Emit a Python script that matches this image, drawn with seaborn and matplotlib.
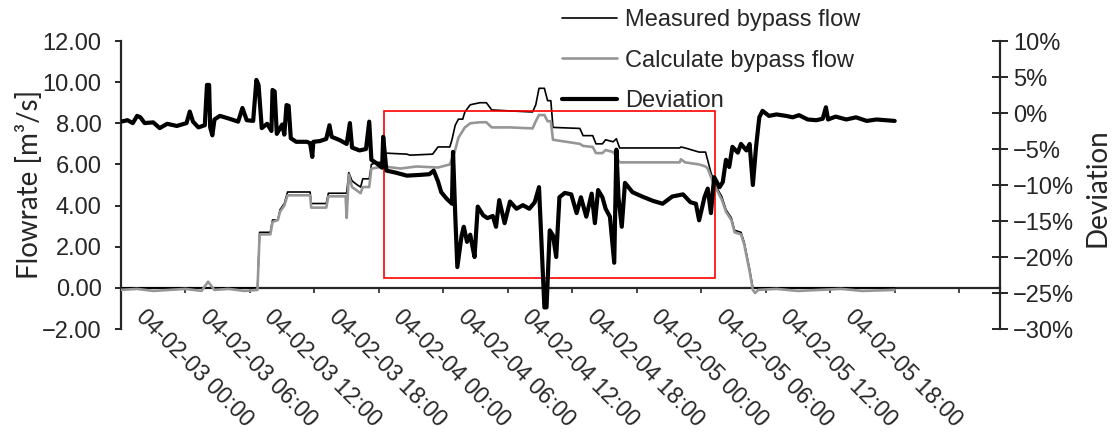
import matplotlib
matplotlib.use('Agg')
import numpy as np
import seaborn as sns
from matplotlib import pyplot as plt
from matplotlib import transforms
from matplotlib.patches import Rectangle
from matplotlib.ticker import FuncFormatter

# hours since 04-02-03 00:00
dev_hours = [0.0, 0.6, 1.1, 1.5, 1.8, 2.2, 3.0, 3.6, 4.3, 5.2, 6.1, 6.4, 6.7, 7.2, 7.8, 8.0, 8.2, 8.3, 8.5, 8.7,
             9.2, 10.1, 10.9, 11.3, 11.7, 12.3, 12.6, 12.8, 13.1, 13.6, 14.0, 14.1, 14.3, 14.5, 15.0, 15.2, 15.4,
             15.6, 15.8, 16.3, 17.3, 17.6, 17.8, 17.9, 18.5, 19.1, 19.4, 19.6, 20.4, 21.0, 21.3, 21.5, 22.2, 22.8,
             23.1, 23.3, 23.8, 24.3, 24.4, 24.7, 25.6, 26.6, 27.8, 28.7, 29.1, 29.5, 29.8, 30.3, 30.8, 30.9, 31.1,
             31.3, 31.7, 31.9, 32.2, 32.5, 32.7, 32.9, 33.2, 33.7, 34.1, 34.6, 34.9, 35.2, 35.7, 36.2, 36.8, 37.4,
             38.0, 38.5, 38.9, 39.1, 39.4, 39.6, 39.9, 40.2, 40.5, 40.8, 41.3, 41.9, 42.4, 42.8, 43.3, 43.8, 44.1,
             44.4, 44.8, 45.1, 45.5, 45.9, 46.1, 46.3, 46.6, 46.9, 47.6, 48.5, 49.5, 50.4, 51.3, 52.3, 53.0, 53.5,
             53.8, 54.3, 54.6, 54.9, 55.2, 55.7, 56.0, 56.3, 56.6, 56.9, 57.4, 57.7, 58.2, 58.5, 58.8, 59.1, 59.4,
             59.7, 60.3, 61.0, 61.9, 62.5, 63.1, 63.9, 64.7, 65.3, 65.6, 65.8, 66.5, 67.5, 68.4, 69.4, 70.3, 71.2,
             72.0]
deviation = [-1.2, -1.0, -1.4, -0.4, -0.6, -1.4, -1.3, -2.1, -1.5, -1.8, -1.4, 0.2, -1.2, -2.0, -1.7, 3.9, 3.9,
             -2.0, -3.1, -0.9, -0.4, -0.8, -1.2, 0.7, -1.0, -1.1, 4.6, 3.9, -2.1, -1.5, -2.5, 3.2, 3.0, -2.9, -1.6,
             -3.0, 1.1, 1.0, -3.5, -4.0, -4.0, -4.2, -6.1, -4.0, -3.9, -3.6, -1.7, -3.3, -3.8, -4.3, -1.4, -4.8,
             -5.2, -5.0, -1.2, -6.5, -7.0, -7.6, -3.3, -8.0, -8.3, -8.7, -8.6, -8.5, -8.0, -9.5, -11.0, -11.9,
             -12.6, -5.4, -14.0, -21.4, -17.0, -15.8, -17.9, -16.9, -18.5, -20.0, -13.0, -14.2, -14.6, -14.3,
             -15.8, -12.1, -15.3, -12.3, -13.3, -12.8, -13.3, -12.4, -10.3, -17.0, -27.0, -27.0, -16.3, -17.0,
             -20.0, -11.7, -11.1, -11.3, -13.9, -11.7, -14.4, -11.2, -15.3, -10.7, -11.7, -13.3, -14.4, -20.8,
             -5.1, -11.8, -15.8, -9.7, -11.0, -11.6, -12.2, -12.6, -11.6, -11.3, -12.4, -12.6, -14.9, -11.7,
             -10.5, -13.9, -8.9, -10.3, -9.6, -6.5, -7.5, -4.7, -5.5, -4.3, -5.2, -4.3, -10.0, -4.7, -0.6, 0.3,
             -0.4, -0.2, -0.4, -0.6, -0.3, -0.9, -1.0, -0.8, 0.8, -0.9, -0.5, -0.9, -0.6, -1.1, -0.9, -1.0, -1.1]

meas_hours = [0.0, 12.7, 12.9, 13.9, 14.1, 14.6, 14.8, 15.2, 15.5, 17.6, 17.7, 19.1, 19.3, 21.0, 21.2, 21.5,
              22.0, 22.3, 22.5, 23.1, 23.3, 23.8, 24.5, 24.6, 26.6, 26.9, 29.0, 29.5, 30.6, 30.8, 31.1, 31.4,
              31.8, 32.0, 32.5, 33.4, 34.0, 34.5, 36.2, 38.3, 38.6, 38.9, 39.4, 39.7, 40.0, 40.2, 42.7, 43.0,
              43.9, 44.2, 44.8, 45.1, 45.8, 46.1, 46.4, 52.0, 52.1, 52.5, 53.8, 54.4, 54.6, 54.9, 55.4, 55.9,
              56.3, 56.8, 57.1, 57.7, 58.0, 58.5, 58.8, 72.0]
measured = [0.0, 0.0, 2.7, 2.7, 3.3, 3.3, 3.8, 4.1, 4.66, 4.66, 4.1, 4.1, 4.6, 4.6, 5.6, 5.2, 5.0, 4.9, 5.3,
            5.3, 6.0, 6.1, 6.1, 6.55, 6.5, 6.45, 6.5, 6.85, 6.85, 7.2, 7.9, 8.2, 8.2, 8.55, 8.9, 9.0, 9.0, 8.65,
            8.6, 8.55, 8.9, 9.7, 9.7, 9.1, 9.1, 7.8, 7.75, 7.4, 7.4, 7.0, 7.0, 7.2, 7.1, 7.25, 6.8, 6.8, 6.85,
            6.8, 6.6, 6.6, 6.2, 5.6, 4.9, 4.45, 3.8, 3.4, 2.8, 2.7, 2.2, 0.9, 0.0, 0.0]

calc_hours = [0.0, 1.5, 3.0, 4.5, 6.0, 7.5, 8.1, 8.7, 10.0, 11.5, 12.7, 12.9, 13.9, 14.1, 14.6, 14.8, 15.2,
              15.5, 17.6, 17.7, 19.1, 19.3, 20.9, 21.0, 21.2, 21.5, 22.3, 22.5, 23.1, 23.3, 24.5, 26.0, 27.5,
              29.5, 30.6, 31.1, 31.4, 32.0, 32.5, 33.4, 34.0, 34.5, 36.2, 38.3, 38.6, 38.9, 39.4, 39.7, 40.0,
              40.2, 42.7, 43.0, 43.9, 44.2, 44.8, 45.1, 45.8, 46.1, 46.4, 52.0, 52.1, 52.5, 53.8, 54.4, 54.6,
              54.9, 55.4, 55.9, 56.3, 56.8, 57.1, 57.7, 58.0, 58.5, 58.8, 59.0, 59.3, 61.0, 63.0, 65.0, 67.0,
              69.0, 72.0]
calculated = [-0.1, -0.05, -0.15, -0.1, -0.05, -0.15, 0.3, -0.1, -0.05, -0.15, -0.1, 2.6, 2.6, 3.2, 3.3,
              3.7, 4.0, 4.5, 4.5, 3.9, 3.9, 4.45, 4.45, 3.4, 5.5, 4.9, 4.6, 4.9, 4.9, 5.8, 5.9, 5.8, 5.9, 5.85,
              6.0, 6.7, 7.3, 7.8, 8.0, 8.05, 8.05, 7.8, 7.8, 7.75, 8.1, 8.4, 8.4, 8.1, 8.1, 7.2, 7.0, 6.9, 6.85,
              6.55, 6.55, 6.7, 6.6, 6.4, 6.1, 6.1, 6.25, 6.1, 6.0, 5.9, 5.8, 5.4, 4.8, 4.3, 3.7, 3.3, 2.7, 2.6,
              2.1, 0.8, -0.1, -0.25, -0.1, -0.05, -0.15, -0.1, -0.05, -0.15, -0.1]

tick_hours = list(range(0, 79, 6))
tick_labels = ['04-02-03 00:00', '04-02-03 06:00', '04-02-03 12:00', '04-02-03 18:00',
               '04-02-04 00:00', '04-02-04 06:00', '04-02-04 12:00', '04-02-04 18:00',
               '04-02-05 00:00', '04-02-05 06:00', '04-02-05 12:00', '04-02-05 18:00', '', '']

# box around the period of interest
box_hours = (24.5, 55.3)
box_flow = (0.5, 8.6)


def minus(s):
    return s.replace('-', '\u2212')


sns.set_style('ticks')
plt.rcParams['font.family'] = ['Liberation Sans', 'DejaVu Sans']
plt.rcParams['axes.linewidth'] = 1.6

fig = plt.figure(figsize=(11.15, 4.32), dpi=100)
ax = fig.add_axes([121 / 1115, 1 - 329 / 432, 879 / 1115, 288 / 432])
ax2 = ax.twinx()

sns.lineplot(x=meas_hours, y=measured, ax=ax, color='black', linewidth=1.2,
             estimator=None, sort=False, legend=False, label='Measured bypass flow', zorder=3)
sns.lineplot(x=calc_hours, y=calculated, ax=ax, color='#969696', linewidth=1.9,
             estimator=None, sort=False, legend=False, label='Calculate bypass flow', zorder=3)
sns.lineplot(x=dev_hours, y=deviation, ax=ax2, color='black', linewidth=3.0,
             estimator=None, sort=False, legend=False, label='Deviation', zorder=3)

ax.add_patch(Rectangle((box_hours[0], box_flow[0]), box_hours[1] - box_hours[0], box_flow[1] - box_flow[0],
                       fill=False, edgecolor='red', linewidth=1.2, zorder=4))

ax.set_xlim(0, 81.8)
ax.set_ylim(-2, 12)
ax2.set_ylim(-30, 10)

for side in ['top', 'right']:
    ax.spines[side].set_visible(False)
ax.spines['bottom'].set_position(('data', 0))
for side in ['top', 'left', 'bottom']:
    ax2.spines[side].set_visible(False)

ax.tick_params(axis='y', direction='out', length=4, width=1.4, labelsize=17, pad=10)
ax.tick_params(axis='x', direction='out', length=3.5, width=1.2, labelsize=16.5, pad=9)
ax2.tick_params(axis='y', direction='inout', length=11, width=1.4, labelsize=17, pad=4)

ax.set_yticks(np.arange(-2, 13, 2))
ax.yaxis.set_major_formatter(FuncFormatter(lambda v, p: minus(f'{v:.2f}')))
ax2.set_yticks(np.arange(-30, 11, 5))
ax2.yaxis.set_major_formatter(FuncFormatter(lambda v, p: minus(f'{v:.0f}%')))

ax.set_xticks(tick_hours)
ax.set_xticklabels(tick_labels)
shift = transforms.ScaledTranslation(10 / 100, 0, fig.dpi_scale_trans)
for lab in ax.get_xticklabels():
    lab.set_rotation(-45)
    lab.set_ha('left')
    lab.set_va('top')
    lab.set_fontsize(16.5)
    lab.set_transform(lab.get_transform() + shift)

fig.text(30 / 1115, 1 - 184 / 432, 'Flowrate [m\u00b3/s]', rotation=90, ha='center', va='center',
         fontsize=20, family=['Lato', 'DejaVu Sans'])
fig.text(1098 / 1115, 1 - 188 / 432, 'Deviation', rotation=90, ha='center', va='center',
         fontsize=20, family=['Lato', 'DejaVu Sans'])

handles = ax.get_lines()[:2] + ax2.get_lines()[:1]
ax2.legend(handles=handles, labels=[h.get_label() for h in handles], loc='upper left',
           bbox_to_anchor=(560 / 1115, 0.984), bbox_transform=fig.transFigure, frameon=False,
           fontsize=17, handlelength=2.3, handletextpad=0.35, labelspacing=0.78,
           borderpad=0.1, borderaxespad=0)

plt.savefig('out.png', dpi=100)
plt.close()
